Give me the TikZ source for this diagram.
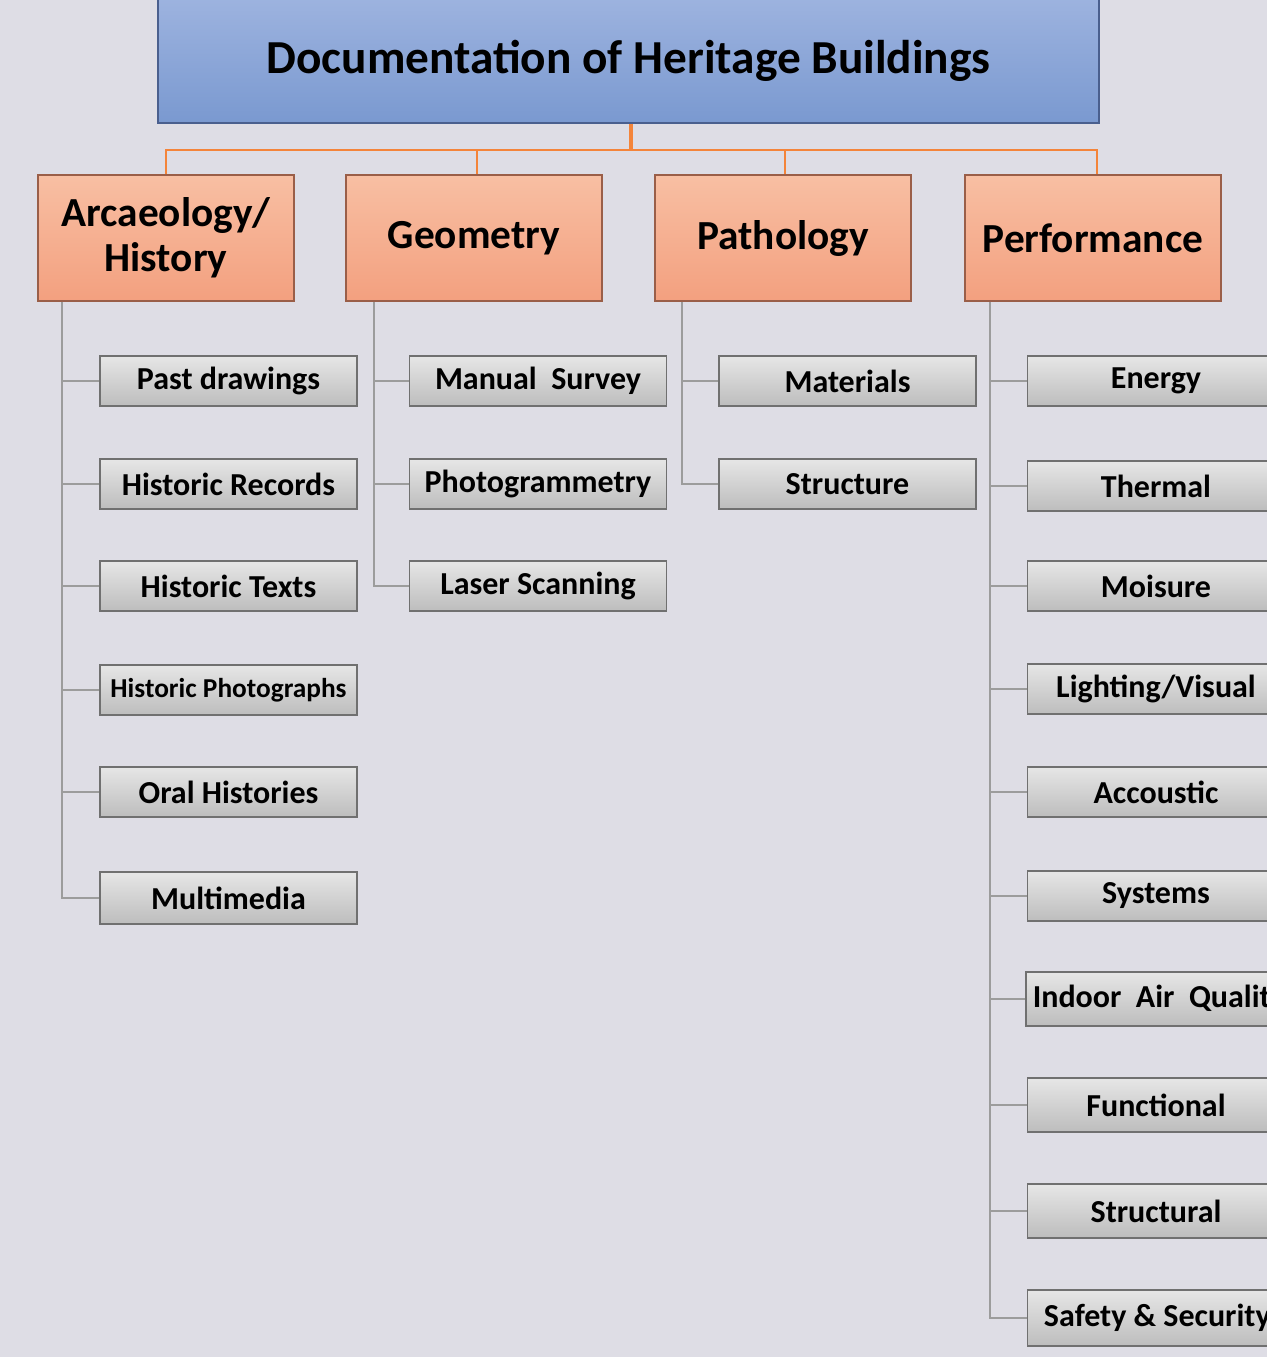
\documentclass[tikz,border=0pt]{standalone}
\usepackage{fontspec}
\setmainfont{Carlito}
\usetikzlibrary{calc}
\definecolor{bgc}{HTML}{DEDDE5}
\definecolor{titletop}{HTML}{9DB3DF}
\definecolor{titlebot}{HTML}{7A99D0}
\definecolor{titleedge}{HTML}{4A5F8E}
\definecolor{ortop}{HTML}{F8BFA3}
\definecolor{orbot}{HTML}{F3A07F}
\definecolor{oredge}{HTML}{9A5E48}
\definecolor{orline}{HTML}{F4843A}
\definecolor{grtop}{HTML}{E6E6E6}
\definecolor{grbot}{HTML}{BDBDBD}
\definecolor{gredge}{HTML}{707070}
\definecolor{grline}{HTML}{9C9C9C}
\tikzset{
  titlebox/.style={draw=titleedge, line width=1.3pt, top color=titletop, bottom color=titlebot,
    minimum width=705.75pt, minimum height=93.75pt, inner sep=0pt,
    font=\bfseries\fontsize{35.5}{40}\selectfont},
  catbox/.style={draw=oredge, line width=1.3pt, top color=ortop, bottom color=orbot,
    minimum width=192pt, minimum height=94.5pt, inner sep=0pt, align=center,
    font=\bfseries\fontsize{31}{33.5}\selectfont},
  itembox/.style={draw=gredge, line width=1.3pt, top color=grtop, bottom color=grbot,
    minimum width=192.75pt, minimum height=37.5pt, inner sep=0pt,
    font=\bfseries\fontsize{24}{26}\selectfont},
  orconn/.style={draw=orline, line width=2pt},
  grconn/.style={draw=grline, line width=1.3pt}
}
\begin{document}
\begin{tikzpicture}[x=0.75pt,y=-0.75pt]
\fill[bgc] (0,0) rectangle (1267,1357);
\useasboundingbox (0,0) rectangle (1267,1357);
\clip (0,0) rectangle (1267,1357);

% title
\node[titlebox] (title) at (628.5,60.5) {Documentation of Heritage Buildings};

% categories
\node[catbox] (arc) at (166,238) {Arcaeology/\\History};
\node[catbox] (geo) at (474,238) {Geometry};
\node[catbox] (pat) at (783,238) {Pathology};
\node[catbox] (per) at (1093,238) {Performance};

\coordinate (bus) at (631,150);
\draw[orconn, line width=3pt] (title.south -| bus) -- (bus);
\draw[orconn] (bus) -| ($(arc.north)$);
\draw[orconn] (bus) -| ($(geo.north)+(3,0)$);
\draw[orconn] (bus) -| ($(pat.north)+(2,0)$);
\draw[orconn] (bus) -| ($(per.north)+(4,0)$);

% Arcaeology items
\node[itembox] (a1) at (228.5,381) {Past drawings};
\node[itembox] (a2) at (228.5,484) {Historic Records};
\node[itembox] (a3) at (228.5,586) {Historic Texts};
\node[itembox, font=\bfseries\fontsize{20.5}{22}\selectfont] (a4) at (228.5,690) {Historic Photographs};
\node[itembox] (a5) at (228.5,792) {Oral Histories};
\node[itembox, minimum height=39pt] (a6) at (228.5,898) {Multimedia};
\foreach \n in {a1,a2,a3,a4,a5,a6}
  \draw[grconn] ($(arc.south west)+(25,0)$) |- (\n.west);

% Geometry items
\node[itembox] (g1) at (538,381) {Manual\ \ Survey};
\node[itembox] (g2) at (538,484) {Photogrammetry};
\node[itembox] (g3) at (538,586) {Laser Scanning};
\foreach \n in {g1,g2,g3}
  \draw[grconn] ($(geo.south west)+(29,0)$) |- (\n.west);

% Pathology items
\node[itembox] (p1) at (847.5,381) {Materials};
\node[itembox] (p2) at (847.5,484) {Structure};
\foreach \n in {p1,p2}
  \draw[grconn] ($(pat.south west)+(28,0)$) |- (\n.west);

% Performance items
\node[itembox] (f1) at (1156,381) {Energy};
\node[itembox] (f2) at (1156,486) {Thermal};
\node[itembox] (f3) at (1156,586) {Moisure};
\node[itembox] (f4) at (1156,689) {Lighting/Visual};
\node[itembox] (f5) at (1156,792) {Accoustic};
\node[itembox] (f6) at (1156,896) {Systems};
\node[itembox, minimum height=40pt] (f7) at (1156,999) {\hspace*{5pt}Indoor\ \ Air\ \ Quality};
\node[itembox, minimum height=40pt] (f8) at (1156,1105) {Functional};
\node[itembox, minimum height=40pt] (f9) at (1156,1211) {Structural};
\node[itembox, minimum height=42pt] (f10) at (1156,1318) {\hspace*{2pt}Safety\ \&\ Security};
\foreach \n in {f1,f2,f3,f4,f5,f6,f7,f8,f9,f10}
  \draw[grconn] ($(per.south west)+(26,0)$) |- (\n.west);
\end{tikzpicture}
\end{document}
